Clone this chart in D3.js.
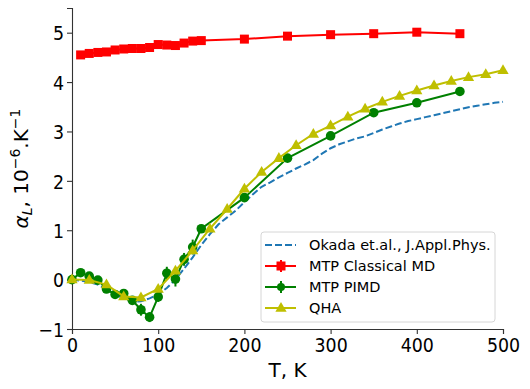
<!DOCTYPE html>
<html>
<head>
<meta charset="utf-8">
<script src="https://cdn.jsdelivr.net/npm/d3@7"></script>
<style>
  body { margin: 0; background: #fff; }
  text { font-family: "DejaVu Sans", sans-serif; fill: #000; }
</style>
</head>
<body>
<svg id="chart" width="530" height="389"></svg>
<script>
// Okada et al. reference curve
var okadaT = [0,10,20,30,40,50,60,70,80,90,100,110,120,130,140,150,160,170,180,190,200,210,220,230,240,250,260,270,280,290,300,310,320,330,340,350,360,370,380,390,400,410,420,430,440,450,460,470,480,490,500];
var okadaA = [0.0,-0.02,-0.05,-0.1,-0.2,-0.3,-0.38,-0.45,-0.44,-0.38,-0.3,-0.17,0.0,0.22,0.45,0.7,0.92,1.12,1.26,1.4,1.57,1.73,1.88,1.97,2.07,2.16,2.25,2.33,2.42,2.55,2.66,2.74,2.8,2.86,2.9,2.97,3.04,3.1,3.16,3.21,3.25,3.29,3.33,3.37,3.41,3.45,3.49,3.52,3.55,3.58,3.6];

// MTP classical MD
var mdT = [10,20,30,40,50,60,70,80,90,100,110,120,130,140,150,200,250,300,350,400,450];
var mdA = [4.55,4.58,4.6,4.61,4.65,4.67,4.68,4.68,4.7,4.76,4.75,4.74,4.79,4.83,4.84,4.87,4.93,4.96,4.98,5.01,4.98];
var mdErr = [0.03,0.03,0.03,0.03,0.03,0.03,0.03,0.03,0.03,0.03,0.03,0.03,0.03,0.03,0.03,0.03,0.03,0.03,0.03,0.03,0.03];

// MTP PIMD
var pimdT = [0,10,20,30,40,50,60,70,80,90,100,110,120,130,140,150,200,250,300,350,400,450];
var pimdA = [0.0,0.14,0.07,-0.01,-0.19,-0.3,-0.28,-0.42,-0.61,-0.76,-0.35,0.13,0.01,0.41,0.66,1.03,1.66,2.46,2.91,3.38,3.58,3.81];
var pimdErr = [0.05,0.05,0.05,0.05,0.06,0.05,0.06,0.06,0.12,0.1,0.1,0.13,0.15,0.13,0.15,0.06,0.06,0.05,0.05,0.05,0.05,0.05];

// QHA
var qhaT = [0,20,40,60,80,100,120,140,160,180,200,220,240,260,280,300,320,340,360,380,400,420,440,460,480,500];
var qhaA = [0.0,-0.01,-0.1,-0.34,-0.36,-0.19,0.18,0.59,1.03,1.43,1.84,2.18,2.46,2.72,2.95,3.12,3.3,3.46,3.6,3.72,3.83,3.93,4.02,4.1,4.16,4.24];

var xTicks = [0,100,200,300,400,500];
var yTicks = [-1,0,1,2,3,4,5];

var svg = d3.select("#chart");
var plotL = 72, plotR = 503, plotT = 8, plotB = 329;

var x = d3.scaleLinear().domain([0, 500]).range([plotL, plotR]);
var y = d3.scaleLinear().domain([-1, 5.5]).range([plotB, plotT]);

function zip(ts, vs, es) {
    return ts.map(function (t, i) { return { t: t, v: vs[i], e: es ? es[i] : 0 }; });
}

var line = d3.line().x(function (d) { return x(d.t); }).y(function (d) { return y(d.v); });

// axes
var xAxis = svg.append("g")
    .attr("transform", "translate(0," + plotB + ")")
    .call(d3.axisBottom(x).tickValues(xTicks).tickSize(5).tickPadding(4));
var yAxis = svg.append("g")
    .attr("transform", "translate(" + plotL + ",0)")
    .call(d3.axisLeft(y).tickValues(yTicks).tickSize(5).tickPadding(4)
        .tickFormat(function (d) { return d < 0 ? "\u2212" + Math.abs(d) : d; }));

[xAxis, yAxis].forEach(function (ax) {
    ax.select(".domain").attr("stroke", "#333").attr("stroke-width", 1.1);
    ax.selectAll(".tick line").attr("stroke", "#333").attr("stroke-width", 1.1);
    ax.selectAll(".tick text").style("font-size", "20px").attr("fill", "#000")
        .attr("transform", "scale(0.87,1)");
});
yAxis.selectAll(".tick text").attr("dy", "0.36em");

// okada dashed
svg.append("path")
    .datum(zip(okadaT, okadaA))
    .attr("d", line)
    .attr("fill", "none")
    .attr("stroke", "#1f77b4")
    .attr("stroke-width", 2)
    .attr("stroke-dasharray", "7,3");

// classical MD
var md = zip(mdT, mdA, mdErr);
svg.append("path").datum(md).attr("d", line)
    .attr("fill", "none").attr("stroke", "red").attr("stroke-width", 2);
svg.selectAll(".mderr").data(md).enter().append("line")
    .attr("x1", function (d) { return x(d.t); }).attr("x2", function (d) { return x(d.t); })
    .attr("y1", function (d) { return y(d.v - d.e); }).attr("y2", function (d) { return y(d.v + d.e); })
    .attr("stroke", "red").attr("stroke-width", 2);
svg.selectAll(".mdpt").data(md).enter().append("rect")
    .attr("x", function (d) { return x(d.t) - 4.5; })
    .attr("y", function (d) { return y(d.v) - 4.5; })
    .attr("width", 9).attr("height", 9)
    .attr("fill", "red");

// PIMD
var pimd = zip(pimdT, pimdA, pimdErr);
svg.append("path").datum(pimd).attr("d", line)
    .attr("fill", "none").attr("stroke", "green").attr("stroke-width", 2);
svg.selectAll(".pierr").data(pimd).enter().append("line")
    .attr("x1", function (d) { return x(d.t); }).attr("x2", function (d) { return x(d.t); })
    .attr("y1", function (d) { return y(d.v - d.e); }).attr("y2", function (d) { return y(d.v + d.e); })
    .attr("stroke", "green").attr("stroke-width", 2);
svg.selectAll(".pipt").data(pimd).enter().append("circle")
    .attr("cx", function (d) { return x(d.t); })
    .attr("cy", function (d) { return y(d.v); })
    .attr("r", 4.8)
    .attr("fill", "green");

// QHA
var qha = zip(qhaT, qhaA);
var tri = d3.symbol().type(d3.symbolTriangle).size(55);
svg.append("path").datum(qha).attr("d", line)
    .attr("fill", "none").attr("stroke", "#bfbf00").attr("stroke-width", 2);
svg.selectAll(".qpt").data(qha).enter().append("path")
    .attr("d", tri)
    .attr("transform", function (d) { return "translate(" + x(d.t) + "," + (y(d.v) + 0.5) + ")"; })
    .attr("fill", "#bfbf00");

// axis labels
svg.append("text")
    .attr("x", (plotL + plotR) / 2).attr("y", 377)
    .attr("text-anchor", "middle")
    .style("font-size", "20px")
    .text("T, K");

var yl = svg.append("text")
    .attr("transform", "translate(28," + ((plotT + plotB) / 2) + ") rotate(-90)")
    .attr("text-anchor", "middle")
    .style("font-size", "20px");
yl.append("tspan").style("font-style", "italic").text("\u03b1");
yl.append("tspan").style("font-style", "italic").style("font-size", "14px").attr("dy", 4).text("L");
yl.append("tspan").attr("dy", -4).text(", 10");
yl.append("tspan").style("font-size", "14px").attr("dy", -8).text("\u22126");
yl.append("tspan").attr("dy", 8).text(".K");
yl.append("tspan").style("font-size", "14px").attr("dy", -8).text("\u22121");

// legend
var legendItems = ["Okada et.al., J.Appl.Phys.", "MTP Classical MD", "MTP PIMD", "QHA"];
var lg = svg.append("g");
lg.append("rect")
    .attr("x", 261).attr("y", 232).attr("width", 234).attr("height", 90)
    .attr("rx", 3).attr("fill", "#fff").attr("fill-opacity", 0.8)
    .attr("stroke", "#d6d6d6").attr("stroke-width", 1);

var rowY = function (i) { return 245 + i * 21; };
legendItems.forEach(function (name, i) {
    var yy = rowY(i);
    var g = lg.append("g");
    if (i === 0) {
        g.append("line").attr("x1", 265).attr("x2", 296).attr("y1", yy).attr("y2", yy)
            .attr("stroke", "#1f77b4").attr("stroke-width", 2).attr("stroke-dasharray", "7,3");
    } else {
        var c = ["red", "green", "#bfbf00"][i - 1];
        g.append("line").attr("x1", 265).attr("x2", 296).attr("y1", yy).attr("y2", yy)
            .attr("stroke", c).attr("stroke-width", 2);
        if (i < 3) {
            g.append("line").attr("x1", 281).attr("x2", 281).attr("y1", yy - 6).attr("y2", yy + 6)
                .attr("stroke", c).attr("stroke-width", 2);
        }
        if (i === 1) {
            g.append("rect").attr("x", 276.5).attr("y", yy - 4.5).attr("width", 9).attr("height", 9).attr("fill", c);
        } else if (i === 2) {
            g.append("circle").attr("cx", 281).attr("cy", yy).attr("r", 4).attr("fill", c);
        } else {
            g.append("path").attr("d", tri).attr("transform", "translate(281," + (yy + 0.5) + ")").attr("fill", c);
        }
    }
    g.append("text").attr("x", 309).attr("y", yy).attr("dy", "0.36em")
        .style("font-size", "14.5px").text(name);
});
</script>
</body>
</html>
